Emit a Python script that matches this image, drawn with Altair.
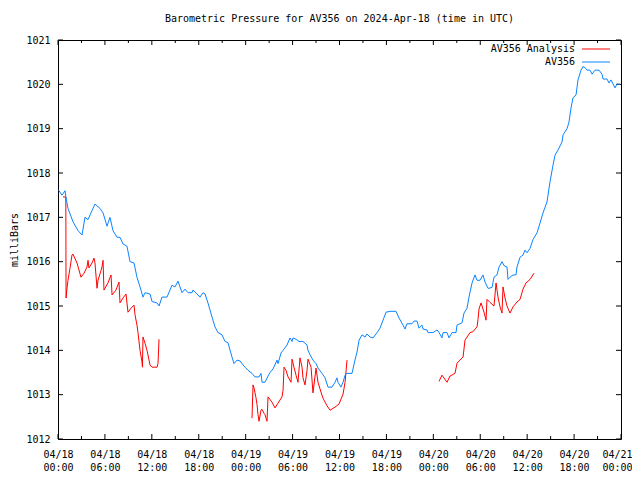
import altair as alt
import pandas as pd

# ---------------- data (hours after 2024-04-18 00:00 UTC, millibars) ----------------
blue_hours = [0.05, 0.51, 0.90, 1.02, 1.28, 1.92, 2.56, 3.07, 3.45, 3.84, 4.35, 4.73, 5.37, 5.76,
              6.27, 6.65, 7.03, 7.55, 7.93, 8.31, 8.82, 9.21, 9.72, 10.10, 10.49, 10.87, 11.13,
              11.77, 12.02, 12.66, 12.92, 13.30, 13.68, 13.94, 14.58, 14.96, 15.35, 15.86, 16.24,
              16.63, 17.14, 17.27, 17.78, 18.16, 18.54, 18.80, 19.18, 19.70, 20.08, 20.46, 20.97,
              21.36, 21.74, 22.25, 22.51, 22.89, 23.28, 23.66, 23.92, 24.30, 24.81, 25.19, 25.71,
              25.96, 26.09, 26.47, 26.86, 27.11, 27.50, 28.01, 28.14, 28.52, 28.78, 29.29, 29.67,
              29.93, 30.05, 30.44, 30.82, 31.33, 31.85, 31.97, 32.23, 32.61, 33.00, 33.25, 33.76,
              34.15, 34.53, 35.04, 35.43, 35.68, 35.81, 36.19, 36.45, 36.71, 36.96, 37.60, 37.98,
              38.24, 38.50, 38.88, 39.26, 39.52, 39.90, 40.29, 40.80, 41.18, 41.57, 41.95, 42.46,
              43.23, 43.61, 44.12, 44.38, 44.63, 45.27, 45.53, 45.91, 46.17, 46.55, 46.68, 47.19,
              47.32, 47.96, 48.47, 48.73, 49.11, 49.24, 49.75, 50.01, 50.39, 50.90, 51.03, 51.67,
              51.92, 52.31, 52.56, 52.95, 53.33, 53.59, 53.97, 54.35, 54.61, 54.99, 55.12, 55.51,
              55.76, 56.14, 56.40, 56.78, 57.04, 57.42, 57.55, 57.81, 58.19, 58.57, 58.70, 59.09,
              59.47, 59.72, 59.98, 60.37, 60.75, 61.26, 61.64, 62.03, 62.54, 62.92, 63.31, 63.56,
              63.95, 64.46, 64.59, 65.10, 65.35, 65.61, 65.87, 66.25, 66.50, 66.89, 67.14, 67.40,
              67.66, 68.04, 68.30, 68.68, 69.19, 69.57, 69.70, 70.21, 70.47, 70.72, 70.98, 71.24,
              71.49, 71.88]
blue_mb = [1017.62, 1017.50, 1017.60, 1017.45, 1017.20, 1016.90, 1016.70, 1016.60, 1017.00, 1016.95,
           1017.15, 1017.30, 1017.20, 1017.10, 1016.80, 1017.00, 1016.70, 1016.55, 1016.55, 1016.40,
           1016.35, 1016.00, 1015.97, 1015.65, 1015.43, 1015.20, 1015.30, 1015.27, 1015.10, 1015.07,
           1015.00, 1015.20, 1015.20, 1015.20, 1015.47, 1015.43, 1015.56, 1015.30, 1015.38, 1015.30,
           1015.30, 1015.36, 1015.27, 1015.20, 1015.30, 1015.27, 1015.07, 1014.75, 1014.53, 1014.40,
           1014.35, 1014.20, 1014.17, 1013.85, 1013.70, 1013.78, 1013.76, 1013.67, 1013.62, 1013.55,
           1013.48, 1013.40, 1013.40, 1013.48, 1013.28, 1013.28, 1013.42, 1013.50, 1013.58, 1013.78,
           1013.70, 1013.94, 1014.00, 1014.12, 1014.28, 1014.20, 1014.28, 1014.25, 1014.20, 1014.20,
           1014.12, 1014.00, 1013.90, 1013.78, 1013.70, 1013.60, 1013.48, 1013.38, 1013.17, 1013.17,
           1013.28, 1013.38, 1013.28, 1013.17, 1013.28, 1013.44, 1013.48, 1013.48, 1013.78, 1013.96,
           1014.23, 1014.35, 1014.30, 1014.37, 1014.30, 1014.28, 1014.40, 1014.50, 1014.68, 1014.86,
           1014.88, 1014.88, 1014.73, 1014.57, 1014.48, 1014.60, 1014.60, 1014.66, 1014.66, 1014.50,
           1014.57, 1014.48, 1014.46, 1014.40, 1014.40, 1014.46, 1014.40, 1014.28, 1014.40, 1014.40,
           1014.28, 1014.40, 1014.40, 1014.57, 1014.62, 1014.84, 1014.95, 1015.20, 1015.52, 1015.70,
           1015.58, 1015.58, 1015.70, 1015.54, 1015.40, 1015.40, 1015.42, 1015.65, 1015.70, 1015.88,
           1016.00, 1015.91, 1015.88, 1015.60, 1015.65, 1015.70, 1015.70, 1015.88, 1016.10, 1016.15,
           1016.26, 1016.20, 1016.30, 1016.50, 1016.65, 1016.87, 1017.10, 1017.35, 1017.80, 1018.18,
           1018.40, 1018.52, 1018.70, 1018.86, 1019.00, 1019.15, 1019.47, 1019.70, 1019.76, 1020.10,
           1020.32, 1020.40, 1020.38, 1020.32, 1020.32, 1020.23, 1020.32, 1020.32, 1020.23, 1020.12,
           1020.12, 1020.03, 1020.10, 1020.01, 1019.92, 1020.01, 1020.00]

red_hours_1 = [0.64, 1.00, 1.03, 1.15, 1.28, 1.53, 1.79, 1.92, 2.43, 2.94, 3.33, 3.71, 3.84, 3.96,
               4.35, 4.60, 4.73, 4.99, 5.12, 5.50, 5.63, 5.76, 5.88, 6.39, 6.78, 6.91, 7.42, 7.80,
               7.93, 8.31, 8.70, 8.95, 9.34, 9.72, 9.85, 10.10, 10.23, 10.49, 10.74, 10.80, 10.87,
               11.13, 11.38, 11.77, 12.02, 12.66, 12.79, 12.92]
red_mb_1 = [1017.46, 1017.46, 1015.18, 1015.40, 1015.58, 1015.85, 1016.15, 1016.17, 1015.97, 1015.65,
            1015.74, 1015.88, 1016.03, 1015.86, 1015.97, 1016.08, 1015.97, 1015.40, 1015.58, 1015.80,
            1015.88, 1016.03, 1015.36, 1015.52, 1015.70, 1015.25, 1015.36, 1015.54, 1015.07, 1015.18,
            1015.27, 1014.86, 1014.95, 1015.02, 1014.80, 1014.57, 1014.40, 1014.00, 1013.74, 1013.62,
            1014.30, 1014.16, 1014.00, 1013.67, 1013.62, 1013.62, 1013.70, 1014.25]

red_hours_2 = [24.81, 24.94, 25.07, 25.32, 25.45, 25.58, 25.71, 25.96, 26.09, 26.35, 26.47, 26.73,
               26.86, 27.37, 27.75, 28.14, 28.65, 28.78, 28.91, 29.16, 29.42, 29.80, 29.93, 30.18,
               30.44, 30.69, 30.95, 31.21, 31.33, 31.59, 31.85, 31.97, 32.36, 32.61, 33.00, 33.25,
               33.63, 33.89, 34.40, 34.79, 35.43, 35.94, 36.45, 36.71, 36.96]
red_mb_2 = [1012.47, 1013.22, 1013.15, 1012.93, 1012.78, 1012.55, 1012.40, 1012.65, 1012.67, 1012.58,
            1012.55, 1012.40, 1012.95, 1012.83, 1012.70, 1012.81, 1012.95, 1013.10, 1013.62, 1013.55,
            1013.40, 1013.28, 1013.80, 1013.62, 1013.44, 1013.28, 1013.83, 1013.62, 1013.38, 1013.22,
            1013.55, 1013.80, 1013.62, 1013.04, 1013.60, 1013.28, 1013.06, 1012.92, 1012.75, 1012.65,
            1012.72, 1012.79, 1013.01, 1013.28, 1013.78]

red_hours_3 = [48.73, 49.11, 49.75, 50.13, 50.77, 51.03, 51.41, 51.80, 52.05, 52.69, 53.07, 53.59,
               53.71, 53.84, 54.10, 54.48, 54.74, 54.86, 55.25, 55.76, 56.02, 56.27, 56.53, 56.78,
               56.91, 57.17, 57.42, 57.81, 58.19, 58.70, 59.09, 59.47, 59.85, 60.37, 60.88]
red_mb_3 = [1013.30, 1013.44, 1013.28, 1013.42, 1013.48, 1013.71, 1013.78, 1013.85, 1014.23, 1014.40,
            1014.42, 1014.53, 1014.69, 1014.93, 1015.07, 1014.86, 1014.68, 1015.15, 1015.08, 1015.00,
            1015.52, 1015.20, 1014.98, 1014.84, 1015.43, 1015.18, 1015.00, 1014.84, 1014.98, 1015.09,
            1015.15, 1015.38, 1015.52, 1015.60, 1015.74]

series_names = ["AV356 Analysis", "AV356"]
series_colors = ["#ff0000", "#0a84ff"]
major_tick_hours = list(range(0, 73, 6))
minor_tick_hours = list(range(3, 72, 6))
y_tick_values = list(range(1012, 1022))
title_text = "Barometric Pressure for AV356 on 2024-Apr-18 (time in UTC)"

# ---------------- helpers ----------------
START = pd.Timestamp("2024-04-18T00:00:00Z")
MS0 = int(START.timestamp() * 1000)


def iso(hours):
    return [(START + pd.Timedelta(hours=h)).strftime("%Y-%m-%dT%H:%M:%SZ") for h in hours]


def ms(h):
    return MS0 + int(h * 3600 * 1000)


FONT = "DejaVu Sans Mono"
W, H = 563, 399

blue_df = pd.DataFrame({"time": iso(blue_hours), "mb": blue_mb, "series": series_names[1]})
red_df = pd.concat([
    pd.DataFrame({"time": iso(red_hours_1), "mb": red_mb_1, "seg": 1}),
    pd.DataFrame({"time": iso(red_hours_2), "mb": red_mb_2, "seg": 2}),
    pd.DataFrame({"time": iso(red_hours_3), "mb": red_mb_3, "seg": 3}),
])
red_df["series"] = series_names[0]

xscale = alt.Scale(type="utc", domain=[ms(0), ms(72)], nice=False)
yscale = alt.Scale(domain=[1012, 1021], nice=False, zero=False)
cscale = alt.Scale(domain=series_names, range=series_colors)

xaxis = alt.Axis(
    values=[ms(h) for h in major_tick_hours],
    labelExpr="[utcFormat(datum.value, '%m/%d'), utcFormat(datum.value, '%H:%M')]",
    ticks=False, domain=False, grid=False, title=None,
    labelFont=FONT, labelFontSize=10, labelColor="black",
    labelLineHeight=13, labelPadding=10, labelFlush=False, labelOverlap=False,
    labelOffset={"expr": f"datum.value >= {ms(72)} ? -4 : 0"},
)
yaxis = alt.Axis(
    values=y_tick_values, format="d",
    ticks=False, domain=False, grid=False,
    title="milliBars", titleFont=FONT, titleFontSize=10, titleFontWeight="normal",
    titleColor="black", titleX=-44, titleY=H / 2, titleAngle=270, titleBaseline="middle",
    titleAlign="center",
    labelFont=FONT, labelFontSize=10, labelColor="black", labelPadding=8,
    labelFlush=False, labelOverlap=False,
)

X = alt.X("time:T", scale=xscale, axis=xaxis)
Y = alt.Y("mb:Q", scale=yscale, axis=yaxis)
C = alt.Color("series:N", scale=cscale, legend=None)

red_line = alt.Chart(red_df).mark_line(strokeWidth=1, interpolate="linear").encode(
    x=X, y=Y, color=C, detail="seg:N")
blue_line = alt.Chart(blue_df).mark_line(strokeWidth=1, interpolate="linear").encode(
    x=X, y=Y, color=C)

major_df = pd.DataFrame({"time": iso(major_tick_hours)})
minor_df = pd.DataFrame({"time": iso(minor_tick_hours)})
ytick_df = pd.DataFrame({"mb": y_tick_values})

tick_layers = []
for df, length in [(major_df, 5), (minor_df, 3)]:
    tick_layers.append(alt.Chart(df).mark_rule(color="black", strokeWidth=1).encode(
        x=X, y=alt.value(H), y2=alt.value(H - length)))
    tick_layers.append(alt.Chart(df).mark_rule(color="black", strokeWidth=1).encode(
        x=X, y=alt.value(0), y2=alt.value(length)))
tick_layers.append(alt.Chart(ytick_df).mark_rule(color="black", strokeWidth=1).encode(
    y=Y, x=alt.value(0), x2=alt.value(5)))
tick_layers.append(alt.Chart(ytick_df).mark_rule(color="black", strokeWidth=1).encode(
    y=Y, x=alt.value(W), x2=alt.value(W - 5)))

legend_layers = []
for i, name in enumerate(series_names):
    ldf = pd.DataFrame({"series": [name]})
    ypos = 9 + 13 * i
    legend_layers.append(alt.Chart(ldf).mark_text(
        align="right", baseline="middle", font=FONT, fontSize=10, color="black").encode(
        text="series:N", x=alt.value(517), y=alt.value(ypos)))
    legend_layers.append(alt.Chart(ldf).mark_rule(strokeWidth=1).encode(
        color=C, x=alt.value(524), x2=alt.value(552), y=alt.value(ypos)))

chart = alt.layer(*tick_layers, red_line, blue_line, *legend_layers).properties(
    width=W, height=H,
    title=alt.TitleParams(title_text, font=FONT, fontSize=10, fontWeight="normal",
                          color="black", anchor="middle", baseline="middle", offset=6),
    autosize=alt.AutoSizeParams(type="none"),
    padding={"left": 50, "top": 32, "right": 11, "bottom": 32},
    background="white",
).configure_view(stroke="black", strokeWidth=1)

chart.save("out.html", embed_options={"renderer": "svg", "actions": False})
